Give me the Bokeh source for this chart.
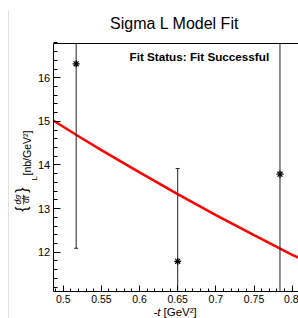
import math
from bokeh.plotting import figure
from bokeh.models import (Label, FixedTicker, Range1d, CustomJSTickFormatter, LinearAxis,
                          BoxAnnotation)
from bokeh.embed import file_html
from bokeh.resources import INLINE

# ---- data ----
t_pts = [0.517, 0.650, 0.784]
sig_pts = [16.32, 11.79, 13.79]
sig_err = [4.23, 2.13, 3.20]

fit_t = [0.487, 0.52, 0.55, 0.60, 0.65, 0.70, 0.75, 0.80, 0.809]
fit_sig = [15.02, 14.66, 14.34, 13.83, 13.33, 12.85, 12.39, 11.94, 11.87]

x_ticks = [0.5, 0.55, 0.6, 0.65, 0.7, 0.75, 0.8]
x_tick_labels = ["0.5", "0.55", "0.6", "0.65", "0.7", "0.75", "0.8"]
y_ticks = [12, 13, 14, 15, 16]
y_tick_labels = ["12", "13", "14", "15", "16"]

title_text = "Sigma L Model Fit"
status_text = "Fit Status: Fit Successful"

# axes frame (data units) and the full canvas extent
x_lo, x_hi = 0.4869, 0.8083
y_lo, y_hi = 11.099, 16.787
cx_lo, cx_hi = 0.41786, 0.80827
cy_lo, cy_hi = 10.479, 17.773

W, H = 298, 318
FONT = "Liberation Sans"

p = figure(width=W, height=H, x_range=Range1d(cx_lo, cx_hi), y_range=Range1d(cy_lo, cy_hi),
           output_backend="svg", toolbar_location=None, min_border=0,
           min_border_left=0, min_border_right=0, min_border_top=0, min_border_bottom=0)
p.grid.visible = False
p.outline_line_color = None
p.background_fill_color = "white"
p.border_fill_color = "white"

x_minor = [round(0.49 + 0.01 * i, 2) for i in range(32)]
y_minor = [round(11.2 + 0.2 * i, 1) for i in range(29)]
fmt_code = """
let best = 0; let d = 1e9;
for (let i = 0; i < tv.length; i++) { const dd = Math.abs(tv[i] - tick); if (dd < d) { d = dd; best = i; } }
return tl[best];
"""
xa = p.xaxis[0]
ya = p.yaxis[0]
xa.ticker = FixedTicker(ticks=x_ticks, minor_ticks=x_minor)
ya.ticker = FixedTicker(ticks=y_ticks, minor_ticks=y_minor)
xa.formatter = CustomJSTickFormatter(args=dict(tv=x_ticks, tl=x_tick_labels), code=fmt_code)
ya.formatter = CustomJSTickFormatter(args=dict(tv=y_ticks, tl=y_tick_labels), code=fmt_code)
xa.fixed_location = y_lo
xa.bounds = (x_lo, x_hi)
ya.fixed_location = x_lo
ya.bounds = (y_lo, y_hi)

for ax in (xa, ya):
    ax.axis_line_color = "black"
    ax.major_tick_line_color = "black"
    ax.minor_tick_line_color = "black"
    ax.major_tick_out = 0
    ax.minor_tick_out = 0
    ax.major_label_text_font = FONT
    ax.major_label_text_color = "black"
xa.major_tick_in = 6
xa.minor_tick_in = 3
ya.major_tick_in = 7
ya.minor_tick_in = 4
xa.major_label_text_font_size = "10.5px"
ya.major_label_text_font_size = "11px"
xa.major_label_standoff = 4
ya.major_label_standoff = 3

# top frame line: an axis without ticks or labels
top = LinearAxis(fixed_location=y_hi, bounds=(x_lo, x_hi),
                 ticker=FixedTicker(ticks=[], minor_ticks=[]),
                 major_tick_in=0, major_tick_out=0, minor_tick_in=0, minor_tick_out=0,
                 axis_line_color="black")
p.add_layout(top, "above")

# fit curve
p.line(fit_t, fit_sig, line_color="#ff0000", line_width=2.5)

# error bars, cut at the frame
lo = [max(s - e, y_lo) for s, e in zip(sig_pts, sig_err)]
hi = [min(s + e, y_hi) for s, e in zip(sig_pts, sig_err)]
p.segment(x0=t_pts, y0=lo, x1=t_pts, y1=hi, line_color="#222222", line_width=1)
cap_lo = [s - e for s, e in zip(sig_pts, sig_err) if s - e > y_lo]
cap_lo_t = [t for t, s, e in zip(t_pts, sig_pts, sig_err) if s - e > y_lo]
cap_hi = [s + e for s, e in zip(sig_pts, sig_err) if s + e < y_hi]
cap_hi_t = [t for t, s, e in zip(t_pts, sig_pts, sig_err) if s + e < y_hi]
p.scatter(cap_lo_t, cap_lo, marker="dash", size=4, line_color="#222222")
p.scatter(cap_hi_t, cap_hi, marker="dash", size=4, line_color="#222222")

# markers (asterisk)
p.scatter(t_pts, sig_pts, marker="cross", size=7, line_color="black", line_width=1.3)
p.scatter(t_pts, sig_pts, marker="x", size=7, line_color="black", line_width=1.3)


def lab(text, px, py, size, align="center", base="middle", angle=0.0, style="normal", color="black"):
    # px, py: position on the page (py from the top)
    p.add_layout(Label(x=px, y=H - py, x_units="screen", y_units="screen", text=text,
                       text_font=FONT, text_font_size=size, text_align=align,
                       text_baseline=base, angle=angle, text_font_style=style, text_color=color))


# neighbouring pad edge (faint)
p.add_layout(BoxAnnotation(left=7.5, right=8.5, bottom=0, top=H - 10,
                           left_units="screen", right_units="screen",
                           bottom_units="screen", top_units="screen",
                           fill_color="#e2e2e2", fill_alpha=1, line_color=None))

# title and status
lab(title_text, 174, 23, "16px")
lab(status_text, 129, 55.5, "11.7px", align="left", style="bold")

# x-axis title
lab("-t", 153, 311, "11.5px", align="left", style="italic")
lab("[GeV\u00b2]", 163, 311, "11.5px", align="left")

# y-axis title: { dσ/dt }_L [nb/GeV²]
A = math.pi / 2
lab("[nb/GeV\u00b2]", 26, 175, "10.5px", align="left", angle=A)
lab("L", 34, 178, "8px", angle=A)
lab("}", 20.5, 189.5, "16px", angle=A)
lab("{", 20.5, 208.5, "16px", angle=A)
lab("d\u03c3", 17.5, 199, "8.5px", angle=A, style="italic")
lab("\u2014", 21.5, 199, "10px", angle=A)
lab("dt", 25, 199, "8.5px", angle=A, style="italic")

open("out.html", "w").write(file_html(p, INLINE))
